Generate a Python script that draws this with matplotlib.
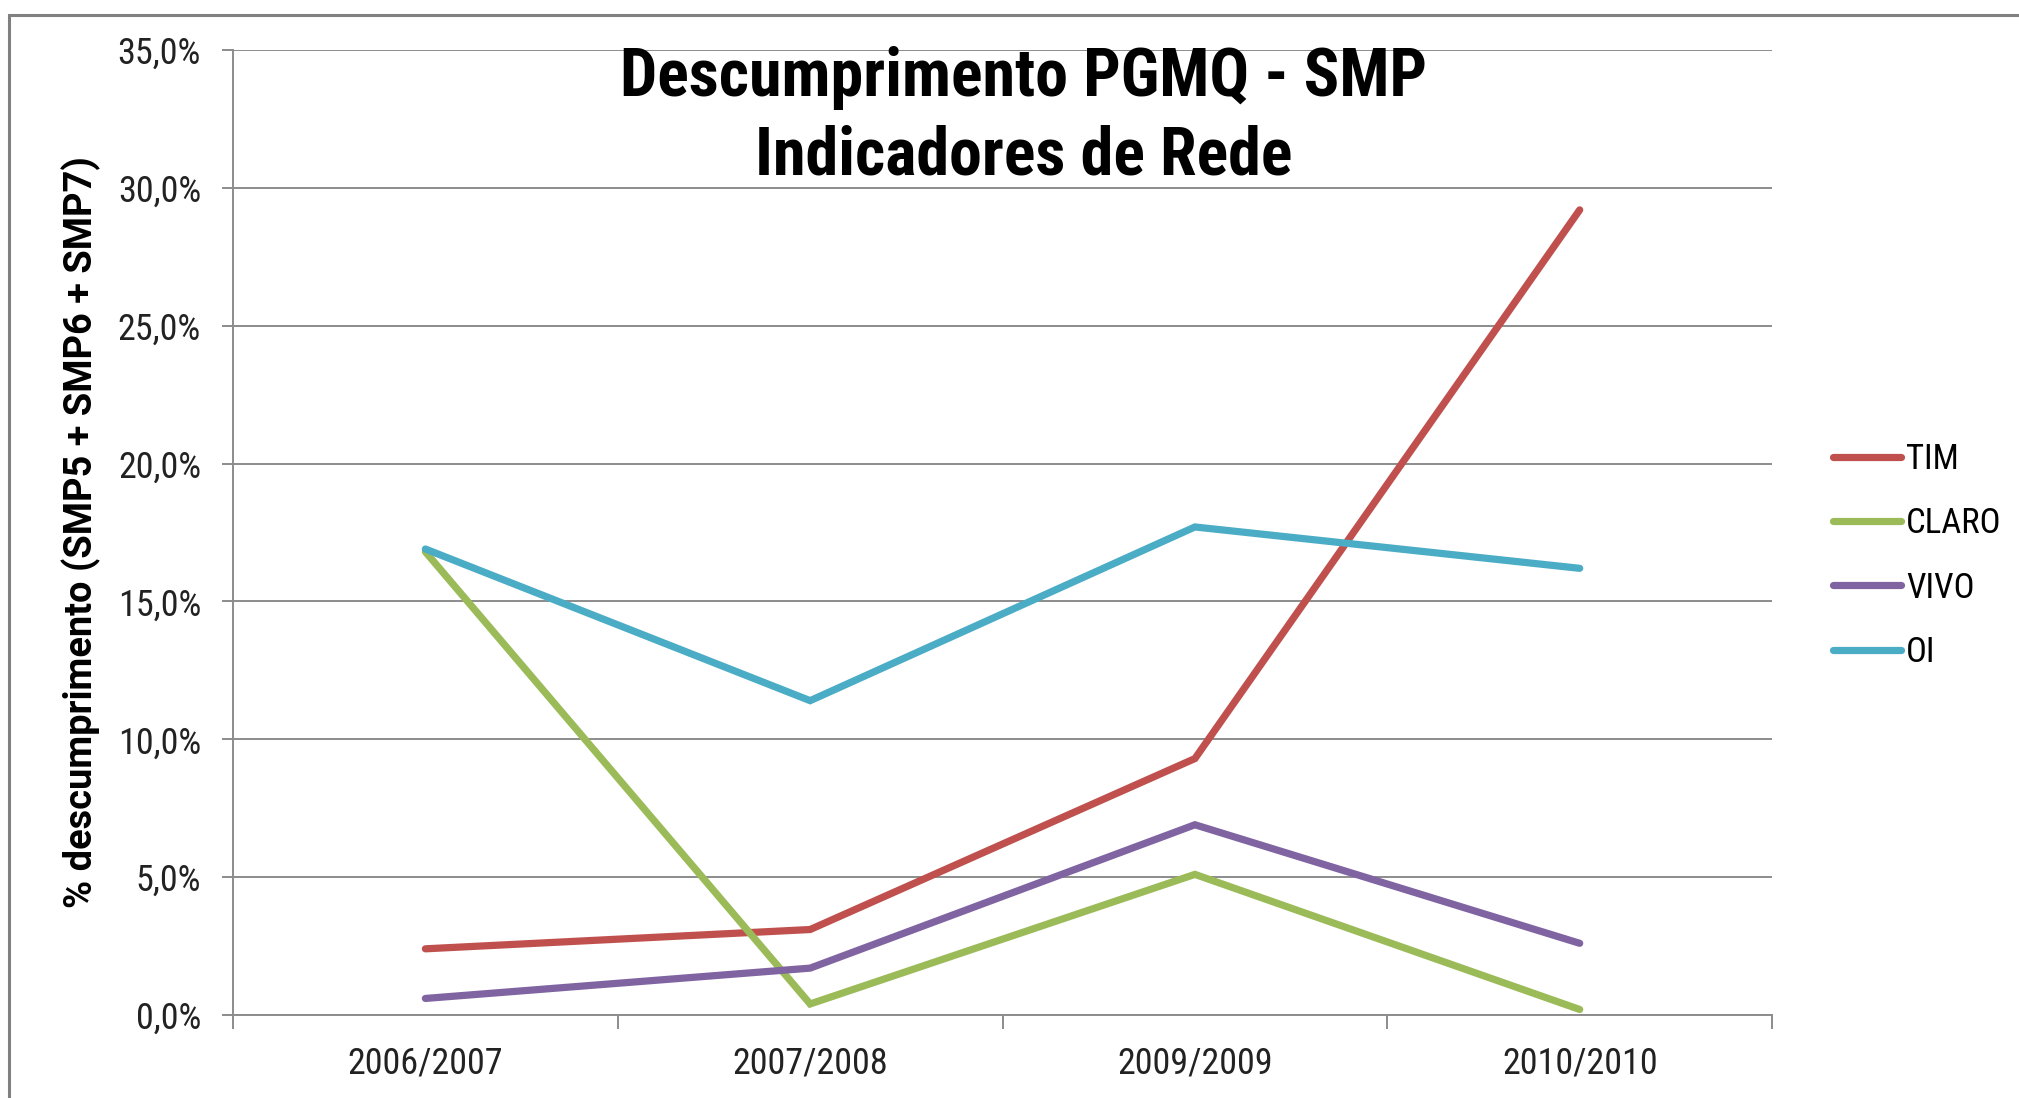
import matplotlib.pyplot as plt
from matplotlib import font_manager
from matplotlib.patches import Rectangle
from matplotlib.ticker import FuncFormatter, MultipleLocator, FixedLocator

# values (percent)
periods = ['2006/2007', '2007/2008', '2009/2009', '2010/2010']
tim = [2.4, 3.1, 9.3, 29.2]
claro = [16.8, 0.4, 5.1, 0.2]
vivo = [0.6, 1.7, 6.9, 2.6]
oi = [16.9, 11.4, 17.7, 16.2]

series = [('TIM', tim, '#C0504D'),
          ('CLARO', claro, '#9BBB59'),
          ('VIVO', vivo, '#8064A2'),
          ('OI', oi, '#4BACC6')]

# pick a narrow face if one is around
names = {f.name for f in font_manager.fontManager.ttflist}
narrow = 'Liberation Sans'
for cand in ['Liberation Sans Narrow', 'DejaVu Sans Condensed', 'Roboto Condensed']:
    if cand in names:
        narrow = cand
        break

grid_color = '#8C8C8C'

fig = plt.figure(figsize=(20.19, 10.98), dpi=100)
ax = fig.add_axes([0.1154, 0.0756, 0.7623, 0.8789])

# outer chart frame (right/bottom edges cut off in the original)
fig.patches.append(Rectangle((9 / 2019, -0.2), 1.2, 1.2 - 15 / 1098,
                             transform=fig.transFigure, fill=False,
                             edgecolor='#808080', linewidth=2.2))

x = range(len(periods))
for name, vals, color in series:
    ax.plot(x, vals, color=color, linewidth=5.2, label=name,
            solid_capstyle='round', solid_joinstyle='miter')

ax.set_xlim(-0.5, len(periods) - 0.5)
ax.set_ylim(0, 35)
ax.yaxis.set_major_locator(MultipleLocator(5))
ax.yaxis.set_major_formatter(FuncFormatter(lambda v, p: f'{v:.1f}%'.replace('.', ',')))
ax.grid(axis='y', color=grid_color, linewidth=1.4)
ax.set_axisbelow(True)

ax.set_xticks(list(x))
ax.set_xticklabels(periods)
ax.xaxis.set_minor_locator(FixedLocator([i - 0.5 for i in range(len(periods) + 1)]))
ax.tick_params(axis='x', which='major', length=0, pad=22)
ax.tick_params(axis='x', which='minor', length=10, width=1.4, color=grid_color)
ax.tick_params(axis='y', length=8, width=1.4, color=grid_color, pad=15)

for lab in ax.get_xticklabels() + ax.get_yticklabels():
    lab.set_fontfamily(narrow)
    lab.set_fontstretch('condensed')
    lab.set_fontsize(26)
    lab.set_color('#222222')

for side in ['top', 'right']:
    ax.spines[side].set_visible(False)
for side in ['left', 'bottom']:
    ax.spines[side].set_color(grid_color)
    ax.spines[side].set_linewidth(1.4)

ax.set_ylabel('% descumprimento (SMP5 + SMP6 + SMP7)', fontsize=27.4,
              fontweight='bold', family='Roboto', labelpad=12)

fig.text(0.507, 0.893, 'Descumprimento PGMQ - SMP\nIndicadores de Rede',
         ha='center', va='center', fontsize=47.5, fontweight='bold',
         family=narrow, stretch='condensed', linespacing=1.28)

leg = ax.legend(loc='center left', bbox_to_anchor=(0.901, 0.4936),
                bbox_transform=fig.transFigure, frameon=False,
                prop={'family': narrow, 'size': 25, 'stretch': 'condensed'},
                handlelength=1.96, handletextpad=0.15, labelspacing=0.9,
                borderaxespad=0)

fig.savefig('out.png', dpi=100)
